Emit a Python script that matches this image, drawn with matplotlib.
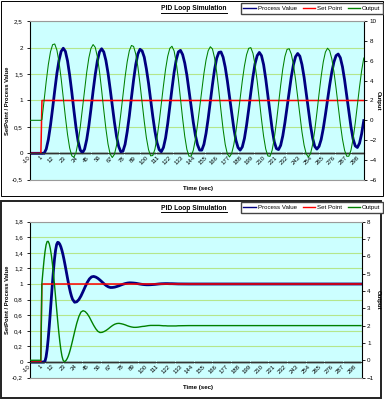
"""
PID loop simulation: oscillating loop (top) and tuned loop (bottom).
"""

import numpy as np
import matplotlib
matplotlib.use("Agg")
import matplotlib.pyplot as plt
from matplotlib.lines import Line2D
from matplotlib.patches import Rectangle
from matplotlib.transforms import IdentityTransform

plt.rcParams["font.family"] = ["Liberation Sans", "DejaVu Sans"]

# ── Data ───────────────────────────────────────────────────────────────────────

TIME_LABELS = list(range(-10, 299, 11))

SP_TIME  = [-10, 0, 1, 303]
SP_VALUE = [0, 0, 1, 1]

# top chart: sustained oscillation
TIME_TOP = [-10, 0] + list(range(1, 304, 2))
PV_TOP = [
    0, 0, 0, 0, 0.08, 0.26, 0.53, 0.85, 1.19, 1.51, 1.76, 1.93, 1.99, 1.93, 1.75, 1.48,
    1.16, 0.81, 0.48, 0.22, 0.06, 0.01, 0.08, 0.26, 0.52, 0.84, 1.18, 1.49, 1.75, 1.92,
    1.98, 1.92, 1.76, 1.52, 1.22, 0.90, 0.59, 0.32, 0.13, 0.03, 0.04, 0.17, 0.41, 0.71,
    1.06, 1.39, 1.68, 1.88, 1.97, 1.94, 1.82, 1.60, 1.33, 1.02, 0.70, 0.42, 0.20, 0.07,
    0.03, 0.11, 0.29, 0.56, 0.89, 1.22, 1.53, 1.77, 1.92, 1.95, 1.87, 1.71, 1.48, 1.19,
    0.89, 0.59, 0.34, 0.16, 0.06, 0.06, 0.17, 0.38, 0.66, 0.98, 1.30, 1.59, 1.80, 1.91,
    1.92, 1.82, 1.63, 1.37, 1.07, 0.76, 0.48, 0.25, 0.11, 0.06, 0.12, 0.28, 0.53, 0.83,
    1.15, 1.45, 1.70, 1.85, 1.91, 1.85, 1.68, 1.41, 1.09, 0.76, 0.46, 0.22, 0.09, 0.07,
    0.15, 0.33, 0.58, 0.87, 1.17, 1.45, 1.68, 1.83, 1.89, 1.84, 1.68, 1.44, 1.14, 0.83,
    0.53, 0.29, 0.13, 0.08, 0.13, 0.26, 0.47, 0.73, 1.01, 1.29, 1.54, 1.73, 1.85, 1.88,
    1.81, 1.64, 1.39, 1.09, 0.78, 0.50, 0.27, 0.14, 0.11, 0.19, 0.37, 0.62,
]
OUT_TOP = [
    0, 0, 0.07, 2.00, 3.93, 5.64, 6.92, 7.64, 7.71, 7.10, 5.89, 4.23, 2.30, 0.33, -1.43,
    -2.80, -3.59, -3.73, -3.23, -2.16, -0.63, 1.19, 3.08, 4.85, 6.30, 7.27, 7.65, 7.37,
    6.42, 4.92, 3.05, 1.04, -0.85, -2.40, -3.41, -3.76, -3.44, -2.53, -1.11, 0.64, 2.54,
    4.37, 5.92, 7.03, 7.56, 7.46, 6.71, 5.41, 3.69, 1.78, -0.11, -1.76, -2.96, -3.59,
    -3.56, -2.92, -1.75, -0.17, 1.64, 3.48, 5.15, 6.46, 7.27, 7.48, 7.01, 5.85, 4.18,
    2.20, 0.18, -1.61, -2.94, -3.63, -3.62, -3.03, -1.93, -0.44, 1.28, 3.07, 4.73, 6.10,
    7.03, 7.43, 7.21, 6.30, 4.83, 2.97, 0.97, -0.92, -2.45, -3.41, -3.70, -3.36, -2.48,
    -1.16, 0.47, 2.24, 3.97, 5.48, 6.62, 7.27, 7.34, 6.77, 5.59, 3.94, 2.04, 0.11, -1.61,
    -2.90, -3.60, -3.64, -3.03, -1.84, -0.22, 1.64, 3.52, 5.19, 6.45, 7.16, 7.23, 6.69,
    5.61, 4.10, 2.34, 0.51, -1.17, -2.52, -3.40, -3.71, -3.38, -2.45, -1.01, 0.75, 2.64,
    4.42, 5.90, 6.89, 7.28, 7.03, 6.21, 4.90, 3.24, 1.42, -0.36, -1.90, -3.03, -3.63,
    -3.63, -3.01, -1.85, -0.28, 1.53, 3.36, 5.01, 6.29,
]

# bottom chart: damped response
TIME_BOT = ([-10] + list(range(0, 31)) + list(range(32, 131, 2))
            + list(range(140, 301, 10)) + [303])
PV_BOT = [
    0, 0, 0, 0, 0, 0.011, 0.066, 0.162, 0.295, 0.456, 0.636, 0.824, 1.008, 1.178, 1.323,
    1.435, 1.507, 1.535, 1.529, 1.509, 1.476, 1.431, 1.376, 1.312, 1.242, 1.169, 1.095,
    1.023, 0.955, 0.895, 0.845, 0.805, 0.766, 0.772, 0.800, 0.846, 0.904, 0.965, 1.021,
    1.065, 1.091, 1.097, 1.089, 1.073, 1.051, 1.026, 1.001, 0.979, 0.963, 0.955, 0.956,
    0.960, 0.968, 0.977, 0.988, 0.998, 1.006, 1.012, 1.015, 1.014, 1.012, 1.009, 1.004,
    0.999, 0.995, 0.992, 0.990, 0.990, 0.991, 0.993, 0.995, 0.998, 1.001, 1.003, 1.004,
    1.005, 1.005, 1.004, 1.004, 1.003, 1.002, 1.001, 1, 1, 1, 1, 1, 1, 1, 1, 1, 1, 1, 1,
    1, 1, 1, 1, 1, 1,
]
OUT_BOT = [
    0, 0, 4.40, 5.10, 5.74, 6.27, 6.66, 6.85, 6.86, 6.72, 6.45, 6.06, 5.56, 4.98, 4.33,
    3.64, 2.95, 2.27, 1.64, 1.08, 0.61, 0.25, 0.02, -0.07, -0.06, 0, 0.10, 0.24, 0.42,
    0.63, 0.87, 1.12, 1.64, 2.13, 2.52, 2.78, 2.86, 2.81, 2.68, 2.49, 2.25, 2.02, 1.82,
    1.67, 1.60, 1.61, 1.66, 1.73, 1.82, 1.92, 2.01, 2.08, 2.12, 2.13, 2.11, 2.08, 2.04,
    1.99, 1.95, 1.92, 1.90, 1.90, 1.91, 1.93, 1.95, 1.96, 1.98, 2.00, 2.01, 2.01, 2.01,
    2.01, 2.01, 2.00, 1.99, 1.99, 1.98, 1.98, 1.98, 1.98, 1.98, 1.99, 2, 2, 2, 2, 2, 2,
    2, 2, 2, 2, 2, 2, 2, 2, 2, 2, 2, 2,
]

TOP_LEFT_TICKS   = [2.5, 2, 1.5, 1, 0.5, 0, -0.5]
TOP_LEFT_LABELS  = ["2,5", "2", "1,5", "1", "0,5", "0", "-0,5"]
TOP_RIGHT_TICKS  = [10, 8, 6, 4, 2, 0, -2, -4, -6]
BOT_LEFT_TICKS   = [1.8, 1.6, 1.4, 1.2, 1, 0.8, 0.6, 0.4, 0.2, 0, -0.2]
BOT_LEFT_LABELS  = ["1,8", "1,6", "1,4", "1,2", "1", "0,8", "0,6", "0,4", "0,2", "0", "-0,2"]
BOT_RIGHT_TICKS  = [8, 7, 6, 5, 4, 3, 2, 1, 0, -1]

# ── Style ──────────────────────────────────────────────────────────────────────

W, H = 384, 400
NAVY, RED, GREEN = "#000080", "#ff0000", "#008000"
BG, GRID = "#ccffff", "#b4e68c"


def px_axes(fig, left, top, right, bottom):
    return fig.add_axes([left / W, 1 - bottom / H, (right - left) / W, (bottom - top) / H])


def draw_chart(fig, rect, t, pv, out, lticks, llabels, rticks, green_lw, yoff):
    ax = px_axes(fig, *rect)
    ax.set_facecolor(BG)
    ax.set_xlim(-10.5, 303.5)
    ax.set_ylim(lticks[-1], lticks[0])
    ax.set_yticks(lticks, llabels)
    ax.grid(axis="y", color=GRID, lw=0.8)
    ax.set_axisbelow(True)
    ax.plot(t, pv, color=NAVY, lw=2.0, solid_joinstyle="round")
    ax.plot(SP_TIME, SP_VALUE, color=RED, lw=1.1)

    ax2 = ax.twinx()
    ax2.set_ylim(rticks[-1], rticks[0])
    ax2.set_yticks(rticks)
    ax2.plot(t, out, color=GREEN, lw=green_lw)

    # category axis crosses at zero, labels hang just below it
    ax.spines["bottom"].set_position(("data", 0))
    ax.spines["bottom"].set_color("#333333")
    for s in ("top", "right"):
        ax.spines[s].set_visible(False)
    ax.spines["left"].set_linewidth(0.8)
    ax2.spines["left"].set_visible(False)
    ax2.spines["top"].set_color("#9a9a9a")
    ax2.spines["bottom"].set_color("#9a9a9a")
    ax2.spines["right"].set_linewidth(0.8)

    ax.set_xticks(TIME_LABELS)
    ax.set_xticklabels([str(v) for v in TIME_LABELS], rotation=45, ha="right",
                       va="center", rotation_mode="anchor")
    ax.set_xticks(np.arange(-10.5, 304, 1), minor=True)
    ax.tick_params(axis="x", which="major", length=0, pad=2.5, labelsize=4.3)
    ax.tick_params(axis="x", which="minor", length=2, width=0.5,
                   direction="inout", color="#333333")
    ax.tick_params(axis="y", length=2, width=0.6, pad=3, labelsize=4.5)
    ax2.tick_params(axis="y", length=2, width=0.6, pad=2, labelsize=4.5)

    cy = (rect[1] + rect[3]) / 2
    fig.text(8 / W, 1 - cy / H, "SetPoint / Process Value", rotation=90,
             weight="bold", fontsize=4.2, ha="center", va="center")
    fig.text(378 / W, 1 - cy / H, "Output", rotation=270, weight="bold",
             fontsize=4.2, ha="center", va="center")
    fig.text(198 / W, 1 - (yoff + 189) / H, "Time (sec)", weight="bold",
             fontsize=4.4, ha="center", va="center")
    title = fig.text(194 / W, 1 - (yoff + 9) / H, "PID Loop Simulation",
                     weight="bold", fontsize=4.8, ha="center", va="center")

    # underline the title
    fig.canvas.draw()
    bb = title.get_window_extent()
    fig.add_artist(Line2D([bb.x0, bb.x1], [bb.y0 - 0.5, bb.y0 - 0.5], color="black",
                          lw=0.7, transform=IdentityTransform()))

    handles = [Line2D([], [], color=c, lw=1) for c in (NAVY, RED, GREEN)]
    fig.legend(handles, ["Process Value", "Set Point", "Output"], loc="upper right",
               bbox_to_anchor=(383 / W, 1 - (yoff + 3) / H), ncol=3, fontsize=4.4,
               fancybox=False, edgecolor="#444444", handlelength=2,
               handletextpad=0.3, columnspacing=1.0, borderpad=0.45,
               borderaxespad=0, framealpha=1)
    return ax, ax2


# ── Main ───────────────────────────────────────────────────────────────────────

def main():
    fig = plt.figure(figsize=(W / 100, H / 100), dpi=100)

    draw_chart(fig, (29.7, 21.3, 364.3, 179.7), TIME_TOP, PV_TOP, OUT_TOP,
               TOP_LEFT_TICKS, TOP_LEFT_LABELS, TOP_RIGHT_TICKS, 0.75, 0)
    draw_chart(fig, (29.7, 221.6, 361.5, 377.6), TIME_BOT, PV_BOT, OUT_BOT,
               BOT_LEFT_TICKS, BOT_LEFT_LABELS, BOT_RIGHT_TICKS, 1.0, 199)

    # chart frames
    fig.add_artist(Rectangle((0.5 / W, 1 - 196 / H), 382 / W, 195.5 / H, fill=False,
                             ec="black", lw=0.7, transform=fig.transFigure))
    fig.add_artist(Rectangle((1 / W, 1 - 397.5 / H), 380 / W, 196.5 / H, fill=False,
                             ec="#222222", lw=1.4, transform=fig.transFigure))

    fig.savefig("out.png", dpi=100)


if __name__ == "__main__":
    main()
